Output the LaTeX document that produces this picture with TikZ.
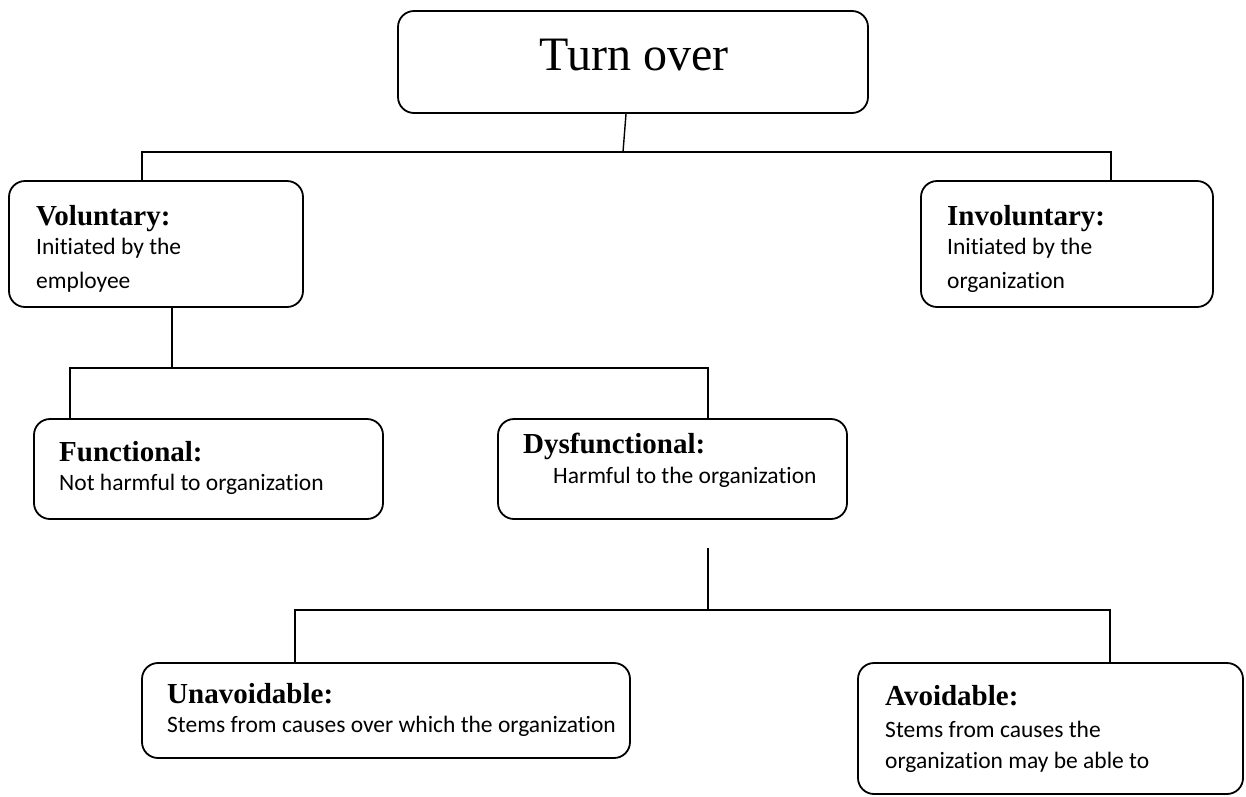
\documentclass[tikz,border=0pt]{standalone}
\usepackage{fontspec}
\setmainfont{Liberation Serif}
\newfontfamily\bodyfont[RawFeature={-liga;-clig;-dlig;-calt}]{Carlito}
\begin{document}
\begin{tikzpicture}[x=1pt,y=-1pt,
  box/.style={draw=black, line width=1.8pt, rounded corners=16pt, inner sep=0pt},
  link/.style={draw=black, line width=1.4pt},
  ttl/.style={font=\fontsize{29}{34}\selectfont\bfseries, anchor=base west, inner sep=0pt},
  txt/.style={font=\bodyfont\fontsize{23.5}{28}\selectfont, anchor=base west, inner sep=0pt}]
\useasboundingbox (0,0) rectangle (1246,796);
% boxes
\node[box, minimum width=470pt, minimum height=102pt] (top) at (633,62) {};
\node[font=\fontsize{48}{56}\selectfont, anchor=base, inner sep=0pt] (toptxt) at (634,70) {Turn over};
\node[box, minimum width=294pt, minimum height=126pt] (vol) at (156,244) {};
\node[box, minimum width=292pt, minimum height=126pt] (invol) at (1067,244) {};
\node[box, minimum width=349pt, minimum height=100pt] (func) at (208.5,469) {};
\node[box, minimum width=349pt, minimum height=100pt] (dys) at (672.5,469) {};
\node[box, minimum width=488pt, minimum height=95pt] (unav) at (386,710.5) {};
\node[box, minimum width=385pt, minimum height=131pt] (avoid) at (1050.5,728.5) {};
% texts
\node[ttl] (volt) at (36,225) {Voluntary:};
\node[txt] (vol1) at (36,254) {Initiated by the};
\node[txt] (vol2) at (36,288) {employee};
\node[ttl] (involt) at (947,225) {Involuntary:};
\node[txt] (invol1) at (947,254) {Initiated by the};
\node[txt] (invol2) at (947,288) {organization};
\node[ttl] (funct) at (59,461) {Functional:};
\node[txt] (func1) at (59,490) {Not harmful to organization};
\node[ttl] (dyst) at (523,453) {Dysfunctional:};
\node[txt] (dys1) at (553,483) {Harmful to the organization};
\node[ttl] (unavt) at (167,703) {Unavoidable:};
\node[txt] (unav1) at (167,732) {Stems from causes over which the organization};
\node[ttl] (avoidt) at (885,705) {Avoidable:};
\node[txt] (avoid1) at (885,737) {Stems from causes the};
\node[txt] (avoid2) at (885,768) {organization may be able to};
% connectors
\coordinate (j1) at (623,152);
\coordinate (b1l) at (142,152);
\coordinate (b1r) at (1111,152);
\draw[link] ([xshift=-7pt]top.south) -- (j1);
\draw[link] (vol.north -| b1l) -- (b1l) -- (b1r) -- (invol.north -| b1r);
\coordinate (b2) at (172,368);
\coordinate (b2l) at (70,368);
\coordinate (b2r) at (708,368);
\draw[link] (vol.south -| b2) -- (b2);
\draw[link] (func.north -| b2l) -- (b2l) -- (b2r) -- (dys.north -| b2r);
\coordinate (s3) at (708,548);
\coordinate (b3) at (708,610);
\coordinate (b3l) at (295,610);
\coordinate (b3r) at (1110,610);
\draw[link] (s3) -- (b3);
\draw[link] (unav.north -| b3l) -- (b3l) -- (b3r) -- (avoid.north -| b3r);
\end{tikzpicture}
\end{document}
